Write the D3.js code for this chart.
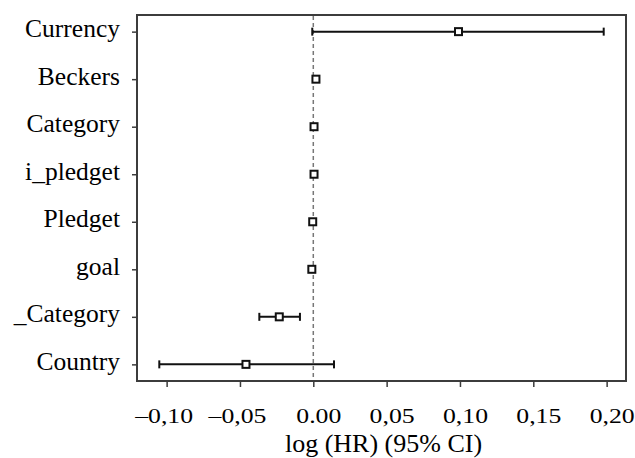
<!DOCTYPE html>
<html>
<head>
<meta charset="utf-8">
<script src="https://cdn.jsdelivr.net/npm/d3@7"></script>
<style>
  html, body { margin: 0; padding: 0; background: #fff; }
  svg { display: block; }
  #chart text { font-family: 'Liberation Serif' !important; }
</style>
</head>
<body>
<svg id="chart" width="635" height="458" font-family="Liberation Serif"></svg>
<script>
// ---- data ----
const variables = ["Currency", "Beckers", "Category", "i_pledget", "Pledget", "goal", "_Category", "Country"];
const estimates = [0.099, 0.0018, 0.0005, 0.0005, -0.0004, -0.0010, -0.0232, -0.0459];
const lowerCI   = [-0.0007, null, null, null, null, null, -0.0368, -0.1050];
const upperCI   = [0.1980, null, null, null, null, null, -0.0091, 0.0141];
const xTickValues = [-0.10, -0.05, 0.00, 0.05, 0.10, 0.15, 0.20];
const xTickLabels = ["\u20130,10", "\u20130,05", "0.00", "0,05", "0,10", "0,15", "0,20"];
const xTitle = "log (HR) (95% CI)";

const rows = variables.map((v, i) => ({ name: v, est: estimates[i], lo: lowerCI[i], hi: upperCI[i] }));

// ---- layout ----
const FONT = "'Liberation Serif'";
const svg = d3.select("#chart");
const mLeft = 137, mRight = 626, mTop = 15, mBottom = 381;
const frameColor = "#3c3c3c";

const x = d3.scaleLinear().domain([-0.1202, 0.2132]).range([mLeft, mRight]);
const y = d3.scalePoint().domain(variables).range([mTop, mBottom]).padding(0.35);

// frame
svg.append("rect")
  .attr("x", mLeft).attr("y", mTop)
  .attr("width", mRight - mLeft).attr("height", mBottom - mTop)
  .attr("fill", "none").attr("stroke", frameColor).attr("stroke-width", 2);

// x axis
const xAxis = d3.axisBottom(x)
  .tickValues(xTickValues)
  .tickFormat((d, i) => xTickLabels[i])
  .tickSizeInner(6).tickSizeOuter(0).tickPadding(10);
const gx = svg.append("g").attr("transform", `translate(0,${mBottom})`).call(xAxis)
  .attr("font-family", "Liberation Serif").attr("font-size", null);
gx.select(".domain").remove();
gx.selectAll(".tick line").attr("stroke", frameColor).attr("stroke-width", 1.5);
gx.selectAll(".tick text")
  .attr("font-family", "Liberation Serif")
  .style("font-family", FONT)
  .style("font-size", "22px")
  .attr("fill", "#000")
  .attr("y", 0).attr("dy", 0)
  .attr("transform", d => `translate(${d < 0 ? -3 : 5},41.5) scale(1.17,1)`);

// y axis
const yAxis = d3.axisLeft(y).tickSizeInner(5).tickSizeOuter(0).tickPadding(12);
const gy = svg.append("g").attr("transform", `translate(${mLeft},0)`).call(yAxis)
  .attr("font-family", "Liberation Serif").attr("font-size", null);
gy.select(".domain").remove();
gy.selectAll(".tick line").attr("stroke", frameColor).attr("stroke-width", 1.5);
gy.selectAll(".tick text")
  .attr("font-family", "Liberation Serif")
  .style("font-family", FONT)
  .style("font-size", "25.5px")
  .attr("fill", "#000")
  .attr("dy", "0.2em");

// reference line at zero
svg.append("line")
  .attr("x1", x(0)).attr("x2", x(0))
  .attr("y1", mTop + 1).attr("y2", mBottom - 1)
  .attr("stroke", "#777").attr("stroke-width", 1.5)
  .attr("stroke-dasharray", "4,3");

// error bars
const ci = rows.filter(d => d.lo !== null && d.hi !== null);
const gci = svg.append("g").attr("stroke", "#111").attr("stroke-width", 2);
gci.selectAll("line.bar").data(ci).join("line").attr("class", "bar")
  .attr("x1", d => x(d.lo)).attr("x2", d => x(d.hi))
  .attr("y1", d => y(d.name)).attr("y2", d => y(d.name));
gci.selectAll("line.capl").data(ci).join("line").attr("class", "capl")
  .attr("x1", d => x(d.lo)).attr("x2", d => x(d.lo))
  .attr("y1", d => y(d.name) - 4).attr("y2", d => y(d.name) + 4);
gci.selectAll("line.caph").data(ci).join("line").attr("class", "caph")
  .attr("x1", d => x(d.hi)).attr("x2", d => x(d.hi))
  .attr("y1", d => y(d.name) - 4).attr("y2", d => y(d.name) + 4);

// point estimates
const s = 7;
svg.append("g").selectAll("rect").data(rows).join("rect")
  .attr("x", d => x(d.est) - s / 2).attr("y", d => y(d.name) - s / 2)
  .attr("width", s).attr("height", s)
  .attr("fill", "#fff").attr("stroke", "#111").attr("stroke-width", 2);

// x title
svg.append("text")
  .attr("x", (mLeft + mRight) / 2 + 2).attr("y", 451.5)
  .attr("text-anchor", "middle")
  .attr("font-family", "Liberation Serif")
  .style("font-family", FONT)
  .style("font-size", "26px")
  .attr("fill", "#000")
  .text(xTitle);
</script>
</body>
</html>
